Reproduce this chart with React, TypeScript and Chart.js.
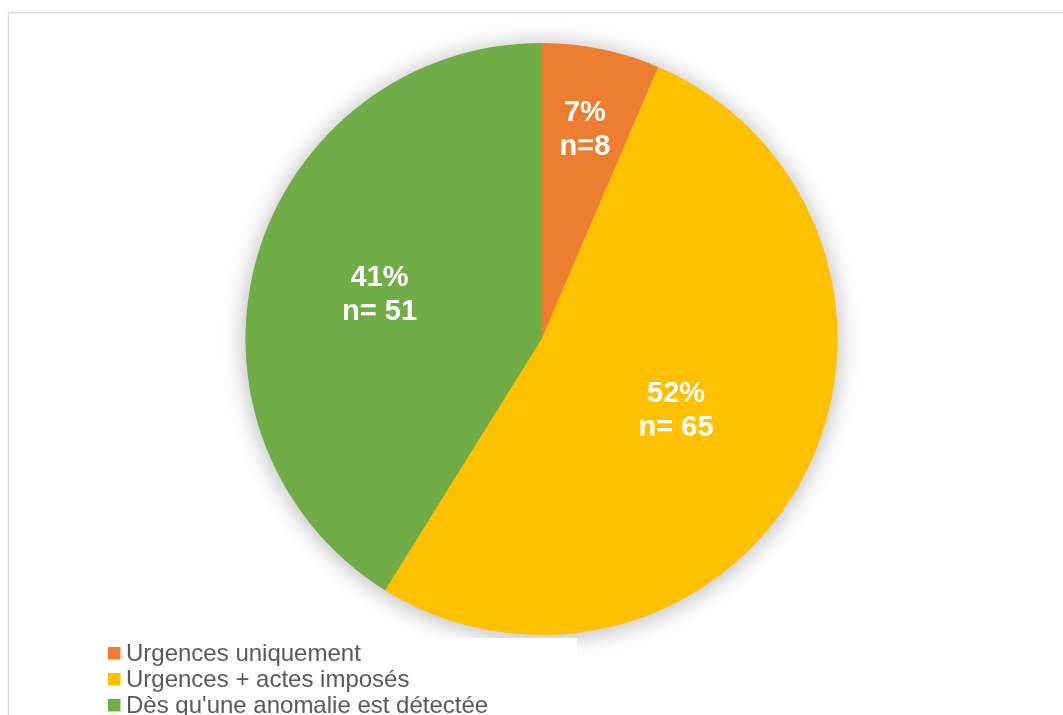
import React, { useEffect, useRef } from "react";
import { Chart, registerables } from "chart.js";

Chart.register(...registerables);

const categories = [
  "Urgences uniquement",
  "Urgences + actes imposés",
  "Dès qu'une anomalie est détectée",
];
const counts = [8, 65, 51];
const percentLabels = ["7%", "52%", "41%"];
const countLabels = ["n=8", "n= 65", "n= 51"];
const colors = ["#ED7D31", "#FFC000", "#70AD47"];
const labelRadiusFractions = [0.728, 0.513, 0.569];

const W = 1063;
const H = 715;

const framePlugin = {
  id: "frame",
  beforeDraw(chart: any) {
    const ctx = chart.ctx;
    ctx.save();
    ctx.fillStyle = "#ffffff";
    ctx.fillRect(0, 0, W, H);
    ctx.strokeStyle = "#d9d9d9";
    ctx.lineWidth = 1.5;
    ctx.strokeRect(8.5, 12.5, 1200, 900);
    ctx.restore();
  },
  beforeDatasetsDraw(chart: any) {
    const meta = chart.getDatasetMeta(0);
    const arc = meta.data[0];
    if (!arc) return;
    const { x, y, outerRadius } = arc.getProps(["x", "y", "outerRadius"], true);
    const ctx = chart.ctx;
    ctx.save();
    ctx.shadowColor = "rgba(0,0,0,0.32)";
    ctx.shadowBlur = 26;
    ctx.shadowOffsetX = 0;
    ctx.shadowOffsetY = 2;
    ctx.fillStyle = "#B4A23C";
    ctx.beginPath();
    ctx.arc(x, y, outerRadius - 1, 0, Math.PI * 2);
    ctx.fill();
    ctx.restore();
  },
  afterDatasetsDraw(chart: any) {
    const ctx = chart.ctx;
    const meta = chart.getDatasetMeta(0);
    ctx.save();
    ctx.fillStyle = "#ffffff";
    ctx.font = "bold 29px 'Liberation Sans', Arial, sans-serif";
    ctx.textAlign = "center";
    ctx.textBaseline = "alphabetic";
    meta.data.forEach((el: any, i: number) => {
      const { x, y, startAngle, endAngle, outerRadius } = el.getProps(
        ["x", "y", "startAngle", "endAngle", "outerRadius"],
        true
      );
      const mid = (startAngle + endAngle) / 2;
      const r = outerRadius * labelRadiusFractions[i];
      const cx = x + Math.cos(mid) * r;
      const cy = y + Math.sin(mid) * r;
      ctx.fillText(percentLabels[i], cx, cy - 17 + 10);
      ctx.fillText(countLabels[i], cx, cy + 17 + 10);
    });
    ctx.restore();

    // legend
    ctx.save();
    ctx.fillStyle = "#ffffff";
    ctx.fillRect(100, 638, 477, 100);
    ctx.font = "24px 'Liberation Sans', Arial, sans-serif";
    ctx.textAlign = "left";
    ctx.textBaseline = "alphabetic";
    const labels = chart.data.labels as string[];
    labels.forEach((lab, i) => {
      const base = 661 + 26 * i;
      ctx.fillStyle = colors[i];
      ctx.fillRect(108, base - 14, 12.5, 12.5);
      ctx.fillStyle = "#595959";
      ctx.fillText(lab, 126, base);
    });
    ctx.restore();
  },
};

export default function App() {
  const ref = useRef<HTMLCanvasElement>(null);
  useEffect(() => {
    if (!ref.current) return;
    const chart = new Chart(ref.current, {
      type: "pie",
      data: {
        labels: categories,
        datasets: [
          {
            data: counts,
            backgroundColor: colors,
            borderWidth: 0,
          },
        ],
      },
      options: {
        responsive: false,
        animation: false,
        events: [],
        layout: {
          padding: { left: 245.5, right: 225.5, top: 43, bottom: 80 },
        },
        plugins: {
          legend: { display: false },
          tooltip: { enabled: false },
        },
      },
      plugins: [framePlugin],
    });
    return () => chart.destroy();
  }, []);
  return (
    <div style={{ position: "fixed", left: 0, top: 0, width: W, height: H, background: "#fff" }}>
      <canvas ref={ref} width={W} height={H} style={{ width: W, height: H, display: "block" }} />
    </div>
  );
}
